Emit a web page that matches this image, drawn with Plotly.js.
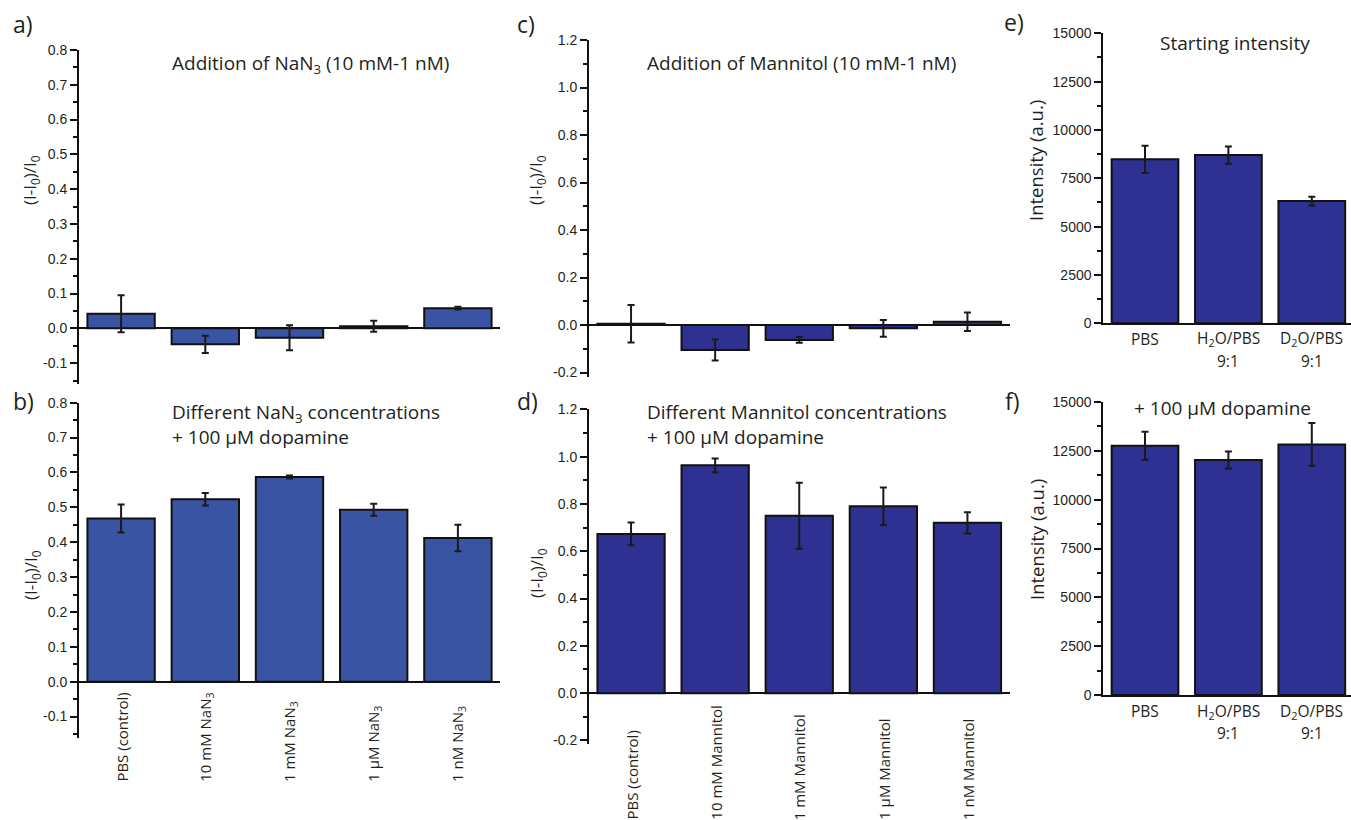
<!DOCTYPE html>
<html>
<head>
<meta charset="utf-8">
<script src="https://cdn.plot.ly/plotly-3.0.1.min.js"></script>
<style>html,body{margin:0;padding:0;background:#fff;}#chart{width:1351px;height:820px;}</style>
</head>
<body>
<div id="chart"></div>
<script>
// ---------- data ----------
const catsNaN = ['PBS (control)', '10 mM NaN3', '1 mM NaN3', '1 µM NaN3', '1 nM NaN3'];
const labelsNaN = ['PBS (control)', '10 mM NaN<sub>3</sub>', '1 mM NaN<sub>3</sub>', '1 µM NaN<sub>3</sub>', '1 nM NaN<sub>3</sub>'];
const catsMan = ['PBS (control)', '10 mM Mannitol', '1 mM Mannitol', '1 µM Mannitol', '1 nM Mannitol'];
const catsSolv = ['PBS', 'H2O/PBS 9:1', 'D2O/PBS 9:1'];
const labelsSolvTop = ['PBS', 'H<sub>2</sub>O/PBS', 'D<sub>2</sub>O/PBS'];
const labelsSolvBottom = ['', '9:1', '9:1'];

const valsA = [0.042, -0.046, -0.027, 0.006, 0.058];
const errA  = [0.053, 0.025, 0.036, 0.016, 0.004];
const valsB = [0.468, 0.523, 0.587, 0.493, 0.412];
const errB  = [0.040, 0.018, 0.004, 0.017, 0.038];
const valsC = [0.005, -0.105, -0.063, -0.014, 0.014];
const errC  = [0.079, 0.044, 0.012, 0.035, 0.039];
const valsD = [0.673, 0.963, 0.750, 0.790, 0.720];
const errD  = [0.048, 0.029, 0.140, 0.079, 0.045];
const valsE = [8480, 8700, 6320];
const errE  = [710, 450, 230];
const valsF = [12760, 12030, 12830];
const errF  = [720, 440, 1090];

const ticksAB = [-0.1, 0, 0.1, 0.2, 0.3, 0.4, 0.5, 0.6, 0.7, 0.8];
const ticksCD = [-0.2, 0, 0.2, 0.4, 0.6, 0.8, 1.0, 1.2];
const ticksEF = [0, 2500, 5000, 7500, 10000, 12500, 15000];

// ---------- layout helpers ----------
const W = 1351, H = 820;
const px = v => v / W;
const py = v => 1 - v / H;
const xdom = (l, r) => [px(l), px(r)];
const ydom = (t, b) => [py(b), py(t)];

const blueAB = 'rgb(58,84,164)';
const blueCF = 'rgb(46,49,146)';
const ink = '#231f20';
const sansMyriad = '"Open Sans", "Noto Sans", sans-serif';
const sansArial = '"Liberation Sans", Arial, sans-serif';

function barTrace(x, y, err, color, xa, ya) {
  return {
    type: 'bar', x: x, y: y, xaxis: xa, yaxis: ya, width: 0.8,
    marker: {color: color, line: {color: '#111', width: 2}},
    error_y: {type: 'data', array: err, visible: true, color: '#1a1a1a', thickness: 2, width: 3.5},
    hoverinfo: 'skip', showlegend: false
  };
}

const data = [
  barTrace(catsNaN, valsA, errA, blueAB, 'x', 'y'),
  barTrace(catsNaN, valsB, errB, blueAB, 'x2', 'y2'),
  barTrace(catsMan, valsC, errC, blueCF, 'x3', 'y3'),
  barTrace(catsMan, valsD, errD, blueCF, 'x4', 'y4'),
  barTrace(catsSolv, valsE, errE, blueCF, 'x5', 'y5'),
  barTrace(catsSolv, valsF, errF, blueCF, 'x6', 'y6')
];

function yAx(dom, range, ticks, dec, minorD, anchor) {
  return {
    domain: dom, range: range, anchor: anchor, fixedrange: true,
    showline: true, linecolor: '#111', linewidth: 2,
    ticks: 'outside', ticklen: 7, tickwidth: 2, tickcolor: '#111',
    tickmode: 'array', tickvals: ticks,
    ticktext: ticks.map(v => dec === 0 ? String(v) : v.toFixed(dec)),
    tickfont: {family: sansArial, size: 14, color: ink},
    minor: {dtick: minorD, ticks: 'outside', ticklen: 4, tickwidth: 2, tickcolor: '#111', showgrid: false},
    showgrid: false,
    zeroline: dec !== 0, zerolinecolor: '#111', zerolinewidth: 2
  };
}
function xAx(dom, range, anchor, line) {
  return {
    domain: dom, range: range, anchor: anchor, type: 'category', fixedrange: true,
    showline: line, linecolor: '#111', linewidth: 2,
    ticks: '', showticklabels: false, showgrid: false, zeroline: false
  };
}

const layout = {
  width: W, height: H,
  margin: {l: 0, r: 0, t: 0, b: 0, pad: 0},
  paper_bgcolor: '#fff', plot_bgcolor: 'rgba(0,0,0,0)',
  bargap: 0.2,
  showlegend: false,
  xaxis:  xAx(xdom(79, 500), [-0.5, 4.5], 'y', false),
  yaxis:  yAx(ydom(50, 384), [-0.16, 0.8], ticksAB, 1, 0.05, 'x'),
  xaxis2: xAx(xdom(79, 500), [-0.5, 4.5], 'y2', false),
  yaxis2: yAx(ydom(402.7, 737.5), [-0.16, 0.8], ticksAB, 1, 0.05, 'x2'),
  xaxis3: xAx(xdom(589, 1009.5), [-0.5, 4.5], 'y3', false),
  yaxis3: yAx(ydom(40, 377.25), [-0.22, 1.2], ticksCD, 1, 0.1, 'x3'),
  xaxis4: xAx(xdom(589, 1009.5), [-0.5, 4.5], 'y4', false),
  yaxis4: yAx(ydom(409.3, 744), [-0.215, 1.2], ticksCD, 1, 0.1, 'x4'),
  xaxis5: xAx(xdom(1103.3, 1351), [-0.5, 2.47], 'y5', true),
  yaxis5: yAx(ydom(33.3, 323.3), [0, 15000], ticksEF, 0, 1250, 'x5'),
  xaxis6: xAx(xdom(1103.3, 1351), [-0.5, 2.47], 'y6', true),
  yaxis6: yAx(ydom(402, 695), [0, 15000], ticksEF, 0, 1250, 'x6'),
  annotations: []
};

const ann = layout.annotations;
function txt(text, x, y, opts) {
  ann.push(Object.assign({
    text: text, x: px(x), y: py(y), xref: 'paper', yref: 'paper',
    showarrow: false, xanchor: 'left', yanchor: 'middle', align: 'left',
    font: {family: sansMyriad, size: 19, color: ink}
  }, opts || {}));
}

// panel letters
const letterFont = {family: sansMyriad, size: 23, color: ink};
txt('a)', 11, 24, {font: letterFont});
txt('b)', 11, 401, {font: letterFont});
txt('c)', 515, 24, {font: letterFont});
txt('d)', 515, 401, {font: letterFont});
txt('e)', 1002, 22, {font: letterFont});
txt('f)', 1003, 401, {font: letterFont});

// panel titles
txt('Addition of NaN<sub>3</sub> (10 mM-1 nM)', 170, 64);
txt('Different NaN<sub>3</sub> concentrations<br>+ 100 µM dopamine', 170, 397, {yanchor: 'top'});
txt('Addition of Mannitol (10 mM-1 nM)', 645, 63);
txt('Different Mannitol concentrations<br>+ 100 µM dopamine', 645, 397, {yanchor: 'top'});
txt('Starting intensity', 1158, 43);
txt('+ 100 µM dopamine', 1132, 408);

// y-axis titles
const yTitleFont = {family: sansMyriad, size: 17, color: ink};
const yI = '(I-I<sub>0</sub>)/I<sub>0</sub>';
txt(yI, 31, 180, {textangle: -90, xanchor: 'center', font: yTitleFont});
txt(yI, 31, 575, {textangle: -90, xanchor: 'center', font: yTitleFont});
txt(yI, 537, 180, {textangle: -90, xanchor: 'center', font: yTitleFont});
txt(yI, 537, 573, {textangle: -90, xanchor: 'center', font: yTitleFont});
const yIntFont = {family: sansMyriad, size: 18.5, color: ink};
txt('Intensity (a.u.)', 1036, 161, {textangle: -90, xanchor: 'center', font: yIntFont});
txt('Intensity (a.u.)', 1036, 540, {textangle: -90, xanchor: 'center', font: yIntFont});

// rotated category labels for panels b and d
const catFont = {family: sansMyriad, size: 15, color: ink};
catsNaN.forEach((c, i) => {
  ann.push({text: labelsNaN[i], x: c, xref: 'x2', y: py(784), yref: 'paper', textangle: -90,
    xanchor: 'center', yanchor: 'bottom', showarrow: false, font: catFont});
});
catsMan.forEach((c) => {
  ann.push({text: c, x: c, xref: 'x4', y: py(822), yref: 'paper', textangle: -90,
    xanchor: 'center', yanchor: 'bottom', showarrow: false, font: catFont});
});
// category labels for panels e and f
const solvFont = {family: sansMyriad, size: 15.5, color: ink};
[['x5', 339, 361], ['x6', 711, 732.5]].forEach(([xa, y1, y2]) => {
  catsSolv.forEach((c, i) => {
    ann.push({text: labelsSolvTop[i], x: c, xref: xa, y: py(y1), yref: 'paper',
      xanchor: 'center', yanchor: 'middle', showarrow: false, font: solvFont});
    if (labelsSolvBottom[i]) {
      ann.push({text: labelsSolvBottom[i], x: c, xref: xa, y: py(y2), yref: 'paper',
        xanchor: 'center', yanchor: 'middle', showarrow: false, font: solvFont});
    }
  });
});

Plotly.newPlot('chart', data, layout, {staticPlot: true, displayModeBar: false});
</script>
</body>
</html>
